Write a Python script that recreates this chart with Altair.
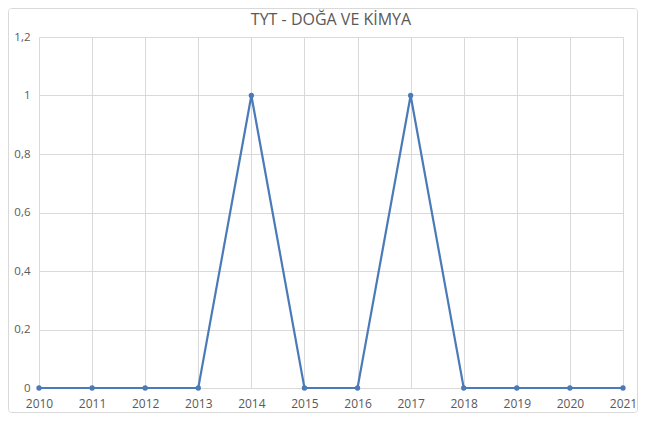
import altair as alt
import pandas as pd

years = [2010, 2011, 2012, 2013, 2014, 2015, 2016, 2017, 2018, 2019, 2020, 2021]
values = [0, 0, 0, 0, 1, 0, 0, 1, 0, 0, 0, 0]
y_ticks = [0, 0.2, 0.4, 0.6, 0.8, 1.0, 1.2]

df = pd.DataFrame({"year": years, "value": values})

FONT = "Open Sans"
TXT = "#595959"
LINE = "#4a7ab8"

x = alt.X("year:Q",
          scale=alt.Scale(domain=[2010, 2021], nice=False, zero=False),
          axis=alt.Axis(values=years, format="d", title=None, labelColor=TXT,
                        labelFontSize=12, labelFont=FONT, domain=False, ticks=False,
                        labelPadding=10, gridColor="#d9d9d9", grid=True,
                        labelFlush=False, labelOverlap=False))
y = alt.Y("value:Q",
          scale=alt.Scale(domain=[0, 1.2], nice=False),
          axis=alt.Axis(values=y_ticks, labelExpr="replace(format(datum.value, '.1~f'), '.', ',')",
                        title=None, labelColor=TXT, labelFontSize=11.5, labelFont=FONT,
                        domain=False, ticks=False, labelPadding=9, gridColor="#d9d9d9",
                        labelFlush=False, labelOverlap=False))

border = alt.Chart(pd.DataFrame({"a": [0]})).mark_rect(
    fill=None, stroke="#d9d9d9", strokeWidth=1, cornerRadius=3, clip=False
).encode(x=alt.value(-30.5), x2=alt.value(598.5), y=alt.value(-28.5), y2=alt.value(375.5))

line = alt.Chart(df).mark_line(color=LINE, strokeWidth=2.2).encode(x=x, y=y)
pts = alt.Chart(df).mark_point(filled=True, color=LINE, size=28, opacity=1).encode(x=x, y=y)

chart = alt.layer(border, line, pts).properties(
    width=584, height=351,
    title=alt.TitleParams("TYT - DOĞA VE KİMYA", font=FONT, fontSize=16, fontWeight="normal",
                          color=TXT, offset=-20, frame="group"),
    autosize=alt.AutoSizeParams(type="none"),
    padding={"left": 31, "top": 29, "right": 15, "bottom": 25},
).configure_view(stroke=None)

chart.save("out.html", embed_options={"renderer": "svg", "actions": False})
